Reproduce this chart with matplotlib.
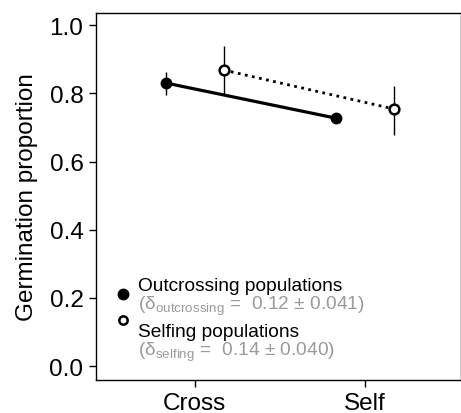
import matplotlib.pyplot as plt
import numpy as np

plt.rcParams['font.family'] = ['Liberation Sans', 'DejaVu Sans']
plt.rcParams['mathtext.fontset'] = 'custom'
plt.rcParams['mathtext.rm'] = 'Liberation Sans'
plt.rcParams['mathtext.it'] = 'Liberation Sans:italic'

# data
treatments = ['Cross', 'Self']
outcross_mean = [0.830, 0.727]
outcross_lo = [0.794, 0.712]
outcross_hi = [0.862, 0.742]
selfing_mean = [0.868, 0.754]
selfing_lo = [0.795, 0.677]
selfing_hi = [0.938, 0.821]
yticks = [0.0, 0.2, 0.4, 0.6, 0.8, 1.0]

fig = plt.figure(figsize=(4.61, 4.14), dpi=100)
ax = fig.add_axes([0.208, 0.080, 0.792, 0.886])

x = np.arange(1, len(treatments) + 1)
off = 0.17

xo = x - off
xs = x + off
mo = np.array(outcross_mean)
ms = np.array(selfing_mean)
err_o = [mo - np.array(outcross_lo), np.array(outcross_hi) - mo]
err_s = [ms - np.array(selfing_lo), np.array(selfing_hi) - ms]

ax.errorbar(xs, ms, yerr=err_s, fmt='none', ecolor='black', elinewidth=1.0, capsize=0, zorder=2)
ax.plot(xs, ms, color='black', lw=2, linestyle=(0, (1, 1.6)), zorder=3)
ax.plot(xs, ms, 'o', ms=7, mfc='white', mec='black', mew=1.8, zorder=5)

ax.errorbar(xo, mo, yerr=err_o, fmt='none', ecolor='black', elinewidth=1.0, capsize=0, zorder=2)
ax.plot(xo, mo, color='black', lw=2.3, zorder=3)
ax.plot(xo, mo, 'o', ms=7.5, mfc='black', mec='black', zorder=5)

ax.set_xlim(0.418, 2.565)
ax.set_ylim(-0.04, 1.035)
ax.set_xticks(x)
ax.set_xticklabels(treatments)
ax.set_yticks(yticks)
ax.set_yticklabels([f'{v:.1f}' for v in yticks])
ax.tick_params(labelsize=17.5, length=5, width=1, direction='out', pad=4)
ax.set_ylabel('Germination proportion', fontsize=17.5, labelpad=8)
for sp in ax.spines.values():
    sp.set_linewidth(1.0)

# legend drawn by hand
tr = ax.transAxes
gray = '#9a9a9a'
ax.plot([0.074], [0.234], 'o', ms=7.5, mfc='black', mec='black', transform=tr, clip_on=False)
ax.plot([0.074], [0.163], 'o', ms=6, mfc='white', mec='black', mew=1.8, transform=tr, clip_on=False)
ax.text(0.115, 0.256, 'Outcrossing populations', transform=tr, fontsize=13.8, va='center')
ax.text(0.115, 0.202, r'(δ$_{\mathrm{outcrossing}}$ =  0.12 ± 0.041)', transform=tr,
        fontsize=13.8, va='center', color=gray)
ax.text(0.115, 0.131, 'Selfing populations', transform=tr, fontsize=13.8, va='center')
ax.text(0.115, 0.077, r'(δ$_{\mathrm{selfing}}$ =  0.14 ± 0.040)', transform=tr,
        fontsize=13.8, va='center', color=gray)

fig.savefig('out.png', dpi=100)
